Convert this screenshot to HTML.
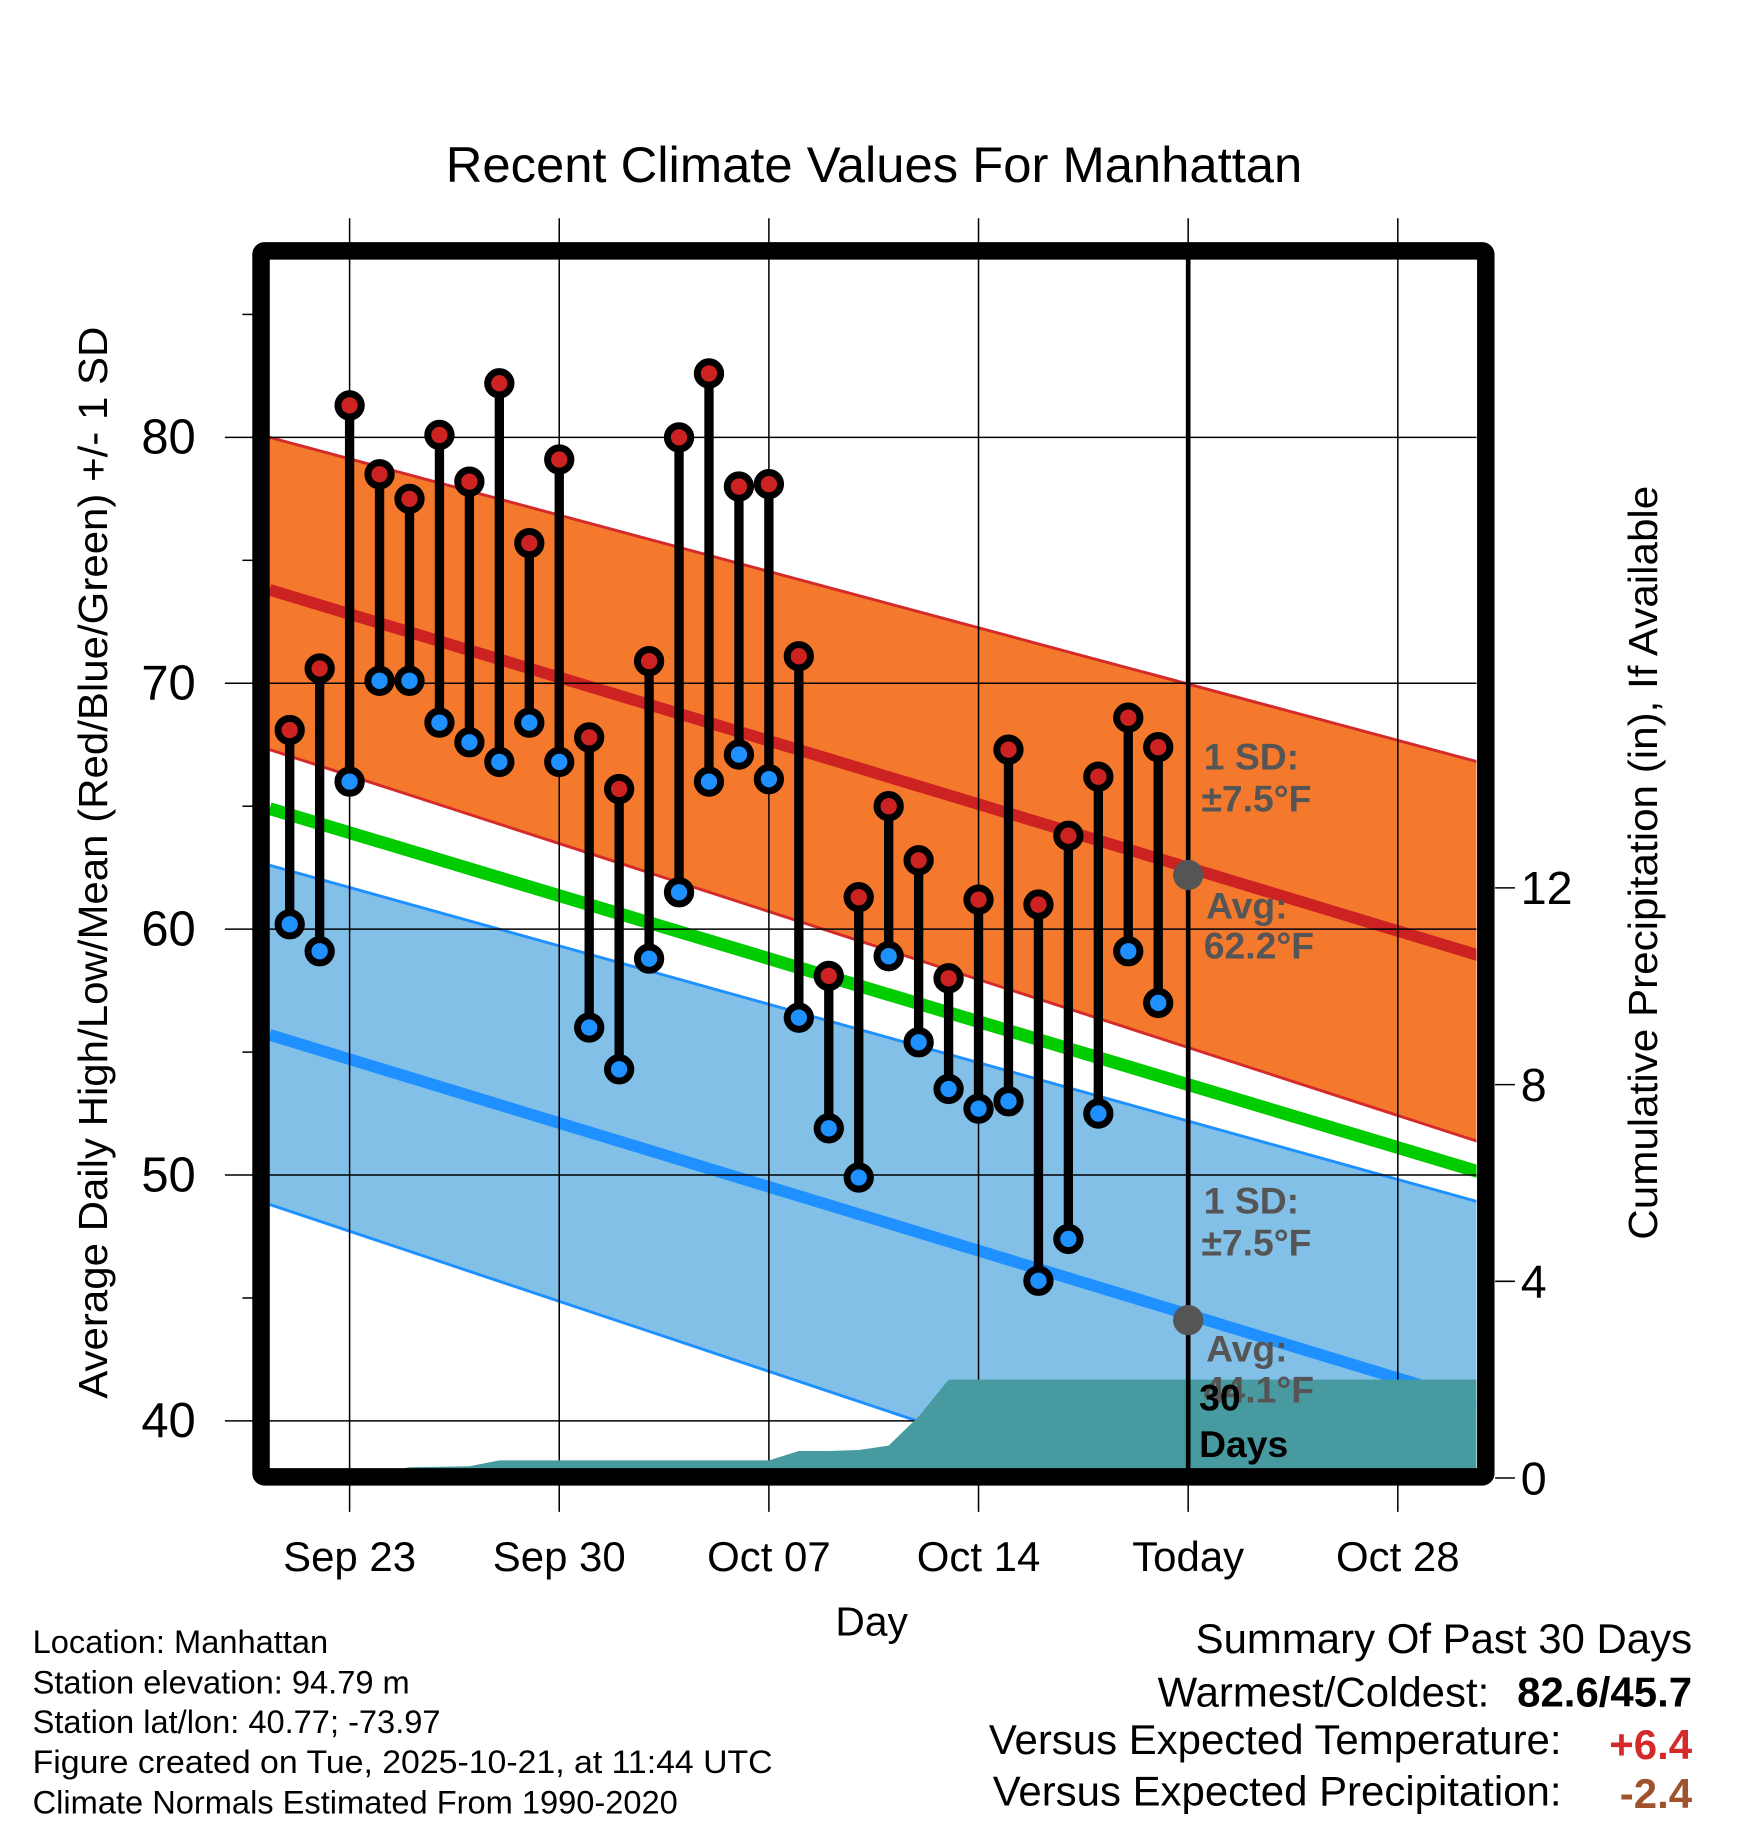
<!DOCTYPE html>
<html><head><meta charset="utf-8"><style>
html,body{margin:0;padding:0;background:#fff;}
svg{display:block;font-family:"Liberation Sans",sans-serif;}
</style></head><body>
<svg id="chart" width="1748" height="1828" viewBox="0 0 1500 1568" xmlns="http://www.w3.org/2000/svg">
<rect x="0" y="0" width="1500" height="1568" fill="#fff"/>
<g id="bands"></g>
<g id="grid"></g>
<g id="precip"></g>
<g id="marks"></g>
<g id="frame"></g>
<g id="labels"></g>
<text x="750" y="156" font-size="43" text-anchor="middle" textLength="735" lengthAdjust="spacingAndGlyphs">Recent Climate Values For Manhattan</text>
<text transform="translate(92,740) rotate(-90)" font-size="35" text-anchor="middle" textLength="920" lengthAdjust="spacingAndGlyphs">Average Daily High/Low/Mean (Red/Blue/Green) +/- 1 SD</text>
<text transform="translate(1422,740) rotate(-90)" font-size="35" text-anchor="middle" textLength="647" lengthAdjust="spacingAndGlyphs">Cumulative Precipitation (in), If Available</text>
<text x="748" y="1403" font-size="35" text-anchor="middle">Day</text>
<g font-size="28">
<text x="28" y="1418">Location: Manhattan</text>
<text x="28" y="1453">Station elevation: 94.79 m</text>
<text x="28" y="1487">Station lat/lon: 40.77; -73.97</text>
<text x="28" y="1521" textLength="635" lengthAdjust="spacingAndGlyphs">Figure created on Tue, 2025-10-21, at 11:44 UTC</text>
<text x="28" y="1556">Climate Normals Estimated From 1990-2020</text>
</g>
<g font-size="36">
<text x="1452" y="1418" text-anchor="end">Summary Of Past 30 Days</text>
<text x="1278" y="1464" text-anchor="end">Warmest/Coldest:</text>
<text x="1452" y="1464" text-anchor="end" font-weight="bold">82.6/45.7</text>
<text x="1340" y="1505" text-anchor="end">Versus Expected Temperature:</text>
<text x="1452" y="1509" text-anchor="end" font-weight="bold" fill="#d42a2a">+6.4</text>
<text x="1340" y="1549" text-anchor="end">Versus Expected Precipitation:</text>
<text x="1452" y="1551" text-anchor="end" font-weight="bold" fill="#a0522d">-2.4</text>
</g>
</svg>
<script>
// day index 0 = Sep 21
const days = [0,1,2,3,4,5,6,7,8,9,10,11,12,13,14,15,16,17,18,19,20,21,22,23,24,25,26,27,28,29];
const highs = [68.1,70.6,81.3,78.5,77.5,80.1,78.2,82.2,75.7,79.1,67.8,65.7,70.9,80.0,82.6,78.0,78.1,71.1,58.1,61.3,65.0,62.8,58.0,61.2,67.3,61.0,63.8,66.2,68.6,67.4];
const lows = [60.2,59.1,66.0,70.1,70.1,68.4,67.6,66.8,68.4,66.8,56.0,54.3,58.8,61.5,66.0,67.1,66.1,56.4,51.9,49.9,58.9,55.4,53.5,52.7,53.0,45.7,47.4,52.5,59.1,57.0];
const precip = [0,0,0,0.1,0.22,0.23,0.24,0.36,0.36,0.36,0.36,0.36,0.36,0.36,0.36,0.36,0.36,0.55,0.55,0.57,0.66,1.25,2.0,2.0,2.0,2.0,2.0,2.0,2.0,2.0];
const normDays = [-0.67, 40.6];
const normHighHi = [80.0, 66.5];
const normHigh = [73.8, 58.6];
const normHighLo = [67.3, 51.0];
const normMean = [64.9, 49.8];
const normLowHi = [62.6, 48.6];
const normLow = [55.7, 40.4];
const normLowLo = [48.8, 32.0];
const xTickDays = [2,9,16,23,30,37];
const xTickLabels = ["Sep 23","Sep 30","Oct 07","Oct 14","Today","Oct 28"];
const yTicks = [40,50,60,70,80];
const y2Ticks = [0,4,8,12];

const L=231,R=1267,T=222,B=1260;
function X(d){return 248.6+d*25.7;}
function Y(t){return 1219-(t-40)*21.1;}
function Y2(p){return 1268-p*42.2;}
const NS="http://www.w3.org/2000/svg";
function mk(tag,attrs,parent){const e=document.createElementNS(NS,tag);for(const k in attrs)e.setAttribute(k,attrs[k]);parent.appendChild(e);return e;}

const bands=document.getElementById('bands');
const clip=mk('clipPath',{id:'pc'},mk('defs',{},document.getElementById('chart')));
mk('rect',{x:L,y:T,width:R-L,height:B-T},clip);
bands.setAttribute('clip-path','url(#pc)');
function line(arr){return arr.map((v,i)=>X(normDays[i])+','+Y(v));}
function band(hi,lo,fill,stroke){
  const pts=line(hi).concat(line(lo).reverse());
  const p=mk('polygon',{points:pts.join(' '),fill:fill},bands);
  
  
  [hi,lo].forEach(a=>{const l=mk('polyline',{points:line(a).join(' '),fill:'none',stroke:stroke,'stroke-width':2.5},bands);
  
  });
}
band(normHighHi,normHighLo,'#f4792d','#d42a2a');
band(normLowHi,normLowLo,'#82c0e8','#1e90ff');
[[normHigh,'#cc2222',10,'avg-high-line'],[normMean,'#00cc00',11,'avg-mean-line'],[normLow,'#1e90ff',10,'avg-low-line']].forEach(([a,c,w,n])=>{
  const l=mk('polyline',{points:line(a).join(' '),fill:'none',stroke:c,'stroke-width':w},bands);
  
  
});

const grid=document.getElementById('grid');
xTickDays.forEach(d=>{const l=mk('line',{x1:X(d),x2:X(d),y1:187,y2:1297,stroke:'#000','stroke-width':1.3},grid);

});
yTicks.forEach(t=>{const l=mk('line',{x1:193,x2:R,y1:Y(t),y2:Y(t),stroke:'#000','stroke-width':1.3},grid);

});
[45,55,65,75,85].forEach(t=>mk('line',{x1:208,x2:217,y1:Y(t),y2:Y(t),stroke:'#000','stroke-width':1.3},grid));
y2Ticks.forEach(p=>{const l=mk('line',{x1:1283,x2:1300,y1:Y2(p),y2:Y2(p),stroke:'#000','stroke-width':1.3},grid);

});

const pr=document.getElementById('precip');
pr.setAttribute('clip-path','url(#pc)');
let pp=[X(days[0])+','+Y2(0)];
days.forEach((d,i)=>pp.push(X(d)+','+Y2(precip[i])));
pp.push(R+','+Y2(precip[precip.length-1]));
pp.push(R+','+(B+10));pp.push(X(days[0])+','+(B+10));
const area=mk('polygon',{points:pp.join(' '),fill:'#489aa1'},pr);



const mg=document.getElementById('marks');
days.forEach((d,i)=>{
  const s=mk('line',{x1:X(d),x2:X(d),y1:Y(highs[i]),y2:Y(lows[i]),stroke:'#000','stroke-width':8},mg);
  
  
});
days.forEach((d,i)=>{
  const h=mk('circle',{cx:X(d),cy:Y(highs[i]),r:10,fill:'#cc2222',stroke:'#000','stroke-width':6},mg);
  
  
  const l=mk('circle',{cx:X(d),cy:Y(lows[i]),r:10,fill:'#1e90ff',stroke:'#000','stroke-width':6},mg);
  
  
});
const tx=X(30);
const tl=mk('line',{x1:tx,x2:tx,y1:T,y2:B,stroke:'#000','stroke-width':4},mg);


const avgHiToday=62.2, avgLoToday=44.1;
[avgHiToday,avgLoToday].forEach(v=>{const c=mk('circle',{cx:tx,cy:Y(v),r:13,fill:'#555'},mg);

});
function ann(x,y,t,fill,name){const e=mk('text',{x:x,y:y,'font-size':32,'font-weight':'bold',fill:fill},mg);e.textContent=t;

}
ann(1033,660,'1 SD:','#555','sd-label-high');ann(1031,696,'\u00b17.5\u00b0F','#555','sd-value-high');
ann(1035,788,'Avg:','#555','avg-label-high');ann(1033,822,'62.2\u00b0F','#555','avg-value-high');
ann(1033,1041,'1 SD:','#555','sd-label-low');ann(1031,1077,'\u00b17.5\u00b0F','#555','sd-value-low');
ann(1035,1168,'Avg:','#555','avg-label-low');ann(1033,1203,'44.1\u00b0F','#555','avg-value-low');
ann(1029,1210,'30','#000','days-label-num');ann(1029,1250,'Days','#000','days-label');

const fr=document.getElementById('frame');
const f=mk('rect',{x:224,y:215,width:1051,height:1052,fill:'none',stroke:'#000','stroke-width':15,rx:3},fr);



const lb=document.getElementById('labels');
xTickDays.forEach((d,i)=>{const t=mk('text',{x:X(d),y:1348,'font-size':36,'text-anchor':'middle'},lb);t.textContent=xTickLabels[i];

});
yTicks.forEach(v=>{const t=mk('text',{x:168,y:Y(v)+14,'font-size':42,'text-anchor':'end'},lb);t.textContent=v;

});
y2Ticks.forEach(v=>{const t=mk('text',{x:1305,y:Y2(v)+14,'font-size':40},lb);t.textContent=v;

});
</script>
</body></html>
